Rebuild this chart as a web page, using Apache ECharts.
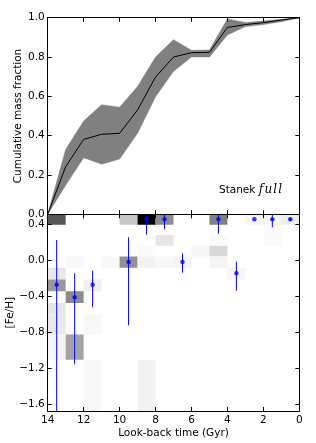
<!DOCTYPE html>
<html><head><meta charset="utf-8">
<script src="https://cdn.jsdelivr.net/npm/echarts@6/dist/echarts.min.js"></script>
<style>html,body{margin:0;padding:0;background:#fff}#c{width:316px;height:443px}</style>
</head><body><div id="c"></div>
<script>
// ---- Top panel: cumulative mass fraction vs look-back time ----
const timeSteps = [14, 13, 12, 11, 10, 9, 8, 7, 6, 5, 4, 3, 2, 1, 0];
const cumMass   = [0, 0.242, 0.381, 0.407, 0.412, 0.531, 0.698, 0.800, 0.822, 0.824, 0.950, 0.965, 0.975, 0.988, 1.0];
const cumUpper  = [0, 0.330, 0.475, 0.557, 0.545, 0.650, 0.800, 0.888, 0.834, 0.836, 0.994, 0.975, 0.983, 0.992, 1.0];
const cumLower  = [0, 0.148, 0.288, 0.255, 0.281, 0.412, 0.598, 0.727, 0.800, 0.800, 0.912, 0.955, 0.965, 0.980, 1.0];

// ---- Bottom panel: mass-weighted age-metallicity bins ----
const ageBinWidth = 1; // Gyr
const fehBinEdges = [0.53, 0.40, 0.285, 0.165, 0.045, -0.08, -0.21, -0.34, -0.47, -0.60, -0.82, -1.10, -1.75];
const cellAge    = [13.5, 9.5, 8.5, 7.5, 4.5, 2.5, 1.5, 0.5,  1.5,  7.5, 4.5, 1.5,  8.5, 5.5, 4.5,  12.5, 10.5, 9.5, 8.5, 7.5, 6.5, 4.5,  13.5, 3.5,  13.5, 11.5,  12.5,  13.5,  13.5, 11.5,  13.5, 12.5,  11.5, 8.5];
const cellRow    = [0,    0,   0,   0,   0,   0,   0,   0,    1,    2,   2,   2,    3,   3,   3,    4,    4,    4,   4,   4,   4,   4,    5,    5,    6,    6,     7,     8,     9,    9,     10,   10,    11,   11];
const cellWeight = [0.66, 0.22, 1.0, 0.45, 0.50, 0.04, 0.035, 0.065, 0.02, 0.10, 0.02, 0.02, 0.02, 0.035, 0.15, 0.027, 0.027, 0.43, 0.05, 0.03, 0.045, 0.045, 0.09, 0.035, 0.40, 0.06, 0.45, 0.10, 0.085, 0.027, 0.04, 0.36, 0.027, 0.05];

// Mean metallicity per age bin with error bars
const pointAge  = [13.5, 12.5, 11.5, 9.5, 8.5, 7.5, 6.5, 4.5, 3.5, 2.5, 1.5, 0.5];
const pointFeh  = [-0.267, -0.407, -0.267, -0.015, 0.46, 0.46, -0.015, 0.46, -0.14, 0.46, 0.46, 0.46];
const pointLow  = [-1.90, -1.15, -0.518, -0.718, 0.29, 0.35, -0.133, 0.30, -0.333, 0.46, 0.37, 0.44];
const pointHigh = [0.23, -0.14, -0.11, 0.26, 0.63, 0.57, 0.082, 0.62, -0.011, 0.46, 0.55, 0.48];

// Tick labels
const timeTicks = [14, 12, 10, 8, 6, 4, 2, 0];
const fracTicks = [0.0, 0.2, 0.4, 0.6, 0.8, 1.0];
const fehTicks  = [-1.6, -1.2, -0.8, -0.4, 0.0, 0.4];

const FONT = 'DejaVu Sans';
const FS = 10.5;
function fmt1(v) { const s = Math.abs(v).toFixed(1); return (v < -1e-9 ? '\u2212' : '') + s; }

const chart = echarts.init(document.getElementById('c'), null, {renderer: 'canvas'});

const gridTop = {left: 47.7, top: 17.7, width: 251.6, height: 196.6, outerBoundsMode: 'none', containLabel: false};
const gridBot = {left: 47.7, top: 214.3, width: 251.6, height: 196.7, outerBoundsMode: 'none', containLabel: false};

function xAx(gridIndex, position, showLabels, name) {
  return {
    type: 'value', gridIndex, position, min: timeTicks[timeTicks.length - 1], max: timeTicks[0], interval: 2, inverse: true, z: 10,
    axisLine: {show: true, onZero: false, lineStyle: {color: '#000', width: 1}},
    axisTick: {show: true, inside: true, length: 4, lineStyle: {color: '#000', width: 1}},
    axisLabel: {show: showLabels, margin: 4, fontFamily: FONT, fontSize: FS, color: '#000',
                showMinLabel: true, showMaxLabel: true, formatter: v => String(v)},
    splitLine: {show: false},
    name: name || '', nameLocation: 'middle', nameGap: 16.5, nameMoveOverlap: false,
    nameTextStyle: {fontFamily: FONT, fontSize: FS, color: '#000'}
  };
}

const fracMin = fracTicks[0], fracMax = fracTicks[fracTicks.length - 1];
function yTopAx(position, showLabels) {
  return {
    type: 'value', gridIndex: 0, position, min: fracMin, max: fracMax, interval: 0.2, z: 10,
    axisLine: {show: true, onZero: false, lineStyle: {color: '#000', width: 1}},
    axisTick: {show: true, inside: true, length: 4, lineStyle: {color: '#000', width: 1}},
    axisLabel: {show: showLabels, margin: 3, fontFamily: FONT, fontSize: FS, color: '#000',
                showMinLabel: true, showMaxLabel: true, formatter: fmt1},
    splitLine: {show: false},
    name: showLabels ? 'Cumulative mass fraction' : '', nameLocation: 'middle', nameGap: 24, nameMoveOverlap: false,
    nameTextStyle: {fontFamily: FONT, fontSize: FS, color: '#000'}
  };
}
function yBotAx(position, showLabels) {
  return {
    type: 'value', gridIndex: 1, position, min: -1.67, max: 0.515, z: 10,
    axisLine: {show: true, onZero: false, lineStyle: {color: '#000', width: 1}},
    axisTick: {show: true, inside: true, length: 4, customValues: fehTicks, lineStyle: {color: '#000', width: 1}},
    axisLabel: {show: showLabels, margin: 3, fontFamily: FONT, fontSize: FS, color: '#000',
                customValues: fehTicks, formatter: fmt1},
    splitLine: {show: false},
    name: showLabels ? '[Fe/H]' : '', nameLocation: 'middle', nameGap: 32, nameMoveOverlap: false,
    nameTextStyle: {fontFamily: FONT, fontSize: FS, color: '#000'}
  };
}

const bandData = timeSteps.map((t, i) => [t, cumLower[i], cumUpper[i]]);
const cellData = cellAge.map((a, i) => [a, fehBinEdges[cellRow[i] + 1], fehBinEdges[cellRow[i]], cellWeight[i]]);
const errData = pointAge.map((a, i) => [a, pointLow[i], pointHigh[i]]);
const ptData = pointAge.map((a, i) => [a, pointFeh[i]]);

chart.setOption({
  animation: false,
  backgroundColor: '#fff',
  grid: [gridTop, gridBot],
  xAxis: [xAx(0, 'bottom', false), xAx(0, 'top', false), xAx(1, 'bottom', true, 'Look-back time (Gyr)'), xAx(1, 'top', false)],
  yAxis: [yTopAx('left', true), yTopAx('right', false), yBotAx('left', true), yBotAx('right', false)],
  visualMap: {
    show: false, type: 'continuous', seriesIndex: 2, dimension: 3, min: 0, max: 1,
    inRange: {color: ['#ffffff', '#000000']}
  },
  graphic: [{
    type: 'text', left: 219, top: 184, z: 20,
    style: {
      text: '{a|Stanek} {b|f\u200Au\u200Al\u200Al}',
      rich: {
        a: {fontFamily: FONT, fontSize: 10.5, fill: '#000'},
        b: {fontFamily: 'DejaVu Serif', fontStyle: 'italic', fontSize: 12, fill: '#000'}
      }
    }
  }],
  series: [
    {
      type: 'custom', xAxisIndex: 0, yAxisIndex: 0, data: bandData, z: 1, silent: true,
      renderItem(params, api) {
        if (params.dataIndex !== 0) return null;
        const up = bandData.map(d => api.coord([d[0], d[2]]));
        const lo = bandData.map(d => api.coord([d[0], d[1]])).reverse();
        return {type: 'polygon', shape: {points: up.concat(lo)}, style: {fill: '#808080', stroke: '#808080', lineWidth: 0.5}};
      }
    },
    {
      type: 'line', xAxisIndex: 0, yAxisIndex: 0, data: timeSteps.map((t, i) => [t, cumMass[i]]),
      showSymbol: false, symbol: 'none', lineStyle: {color: '#000', width: 1}, z: 3, silent: true
    },
    {
      type: 'custom', xAxisIndex: 2, yAxisIndex: 2, data: cellData, z: 1, clip: true, silent: true,
      renderItem(params, api) {
        const p1 = api.coord([api.value(0) + ageBinWidth / 2, api.value(2)]);
        const p2 = api.coord([api.value(0) - ageBinWidth / 2, api.value(1)]);
        return {type: 'rect', shape: {x: Math.min(p1[0], p2[0]), y: Math.min(p1[1], p2[1]),
                width: Math.abs(p2[0] - p1[0]), height: Math.abs(p2[1] - p1[1])},
                style: {fill: api.visual('color')}};
      }
    },
    {
      type: 'custom', xAxisIndex: 2, yAxisIndex: 2, data: errData, z: 3, clip: true, silent: true,
      renderItem(params, api) {
        const a = api.coord([api.value(0), api.value(1)]);
        const b = api.coord([api.value(0), api.value(2)]);
        return {type: 'line', shape: {x1: a[0], y1: a[1], x2: b[0], y2: b[1]}, style: {stroke: '#0000ff', lineWidth: 1}};
      }
    },
    {
      type: 'scatter', xAxisIndex: 2, yAxisIndex: 2, data: ptData, symbol: 'circle', symbolSize: 4.5,
      itemStyle: {color: '#0000ff'}, z: 4, silent: true, clip: true
    }
  ]
});
</script></body></html>
